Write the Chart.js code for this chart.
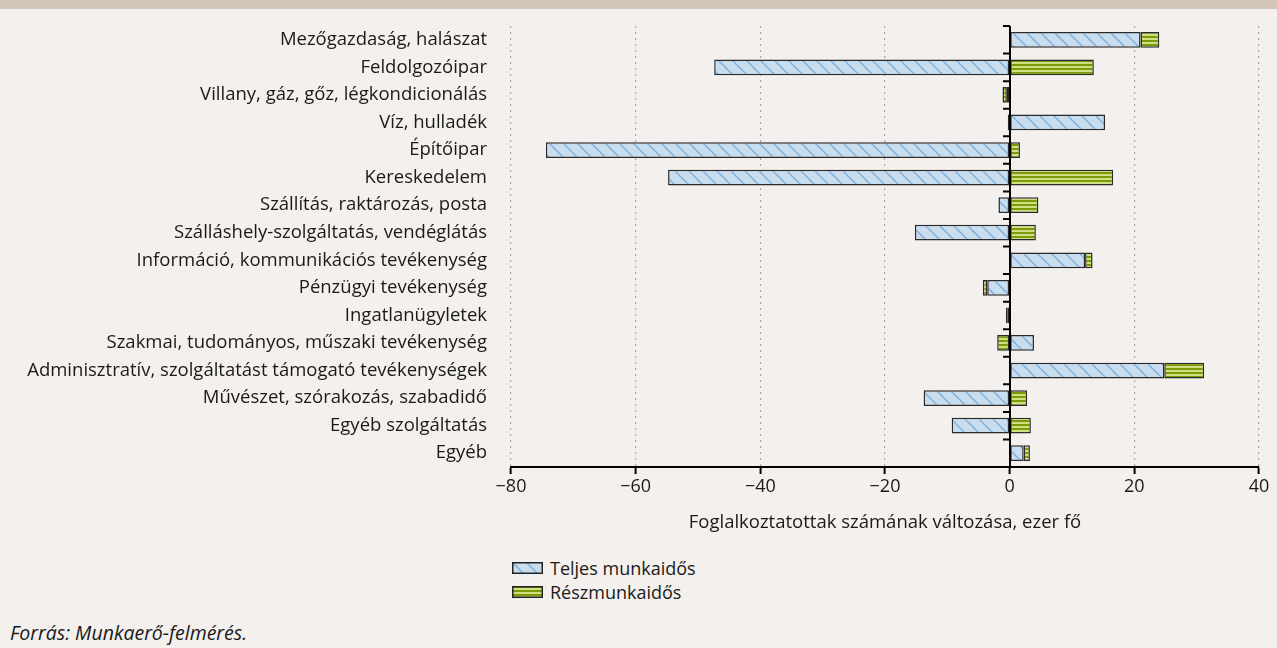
<!DOCTYPE html>
<html>
<head>
<meta charset="utf-8">
<script src="https://cdn.jsdelivr.net/npm/chart.js@4/dist/chart.umd.min.js"></script>
<style>
  html, body { margin: 0; padding: 0; }
  body { width: 1277px; height: 648px; background: #f3f0ed; position: relative; overflow: hidden; font-family: "Open Sans", sans-serif; color: #1a1a1a; }
  #band { position: absolute; left: 0; top: 0; width: 1277px; height: 9px; background: #d3c6b8; }
  #wrap { position: absolute; left: 0; top: 0; width: 1277px; height: 536px; }
  .leg { position: absolute; left: 512px; height: 22px; display: flex; align-items: center; font-size: 18px; }
  .leg canvas { width: 31px; height: 12px; margin-right: 7px; }
  #src { position: absolute; left: 10px; top: 621px; font-size: 19.5px; font-style: italic; color: #1a1a1a; line-height: 24px; }
</style>
</head>
<body>
<div id="band"></div>
<div id="wrap"><canvas id="c" width="1277" height="536"></canvas></div>
<div class="leg" style="top:557px"><canvas id="sw1" width="31" height="12"></canvas><span>Teljes munkaidős</span></div>
<div class="leg" style="top:581px"><canvas id="sw2" width="31" height="12"></canvas><span>Részmunkaidős</span></div>
<div id="src">Forrás: Munkaerő-felmérés.</div>
<script>
const categories = [
  "Mezőgazdaság, halászat",
  "Feldolgozóipar",
  "Villany, gáz, gőz, légkondicionálás",
  "Víz, hulladék",
  "Építőipar",
  "Kereskedelem",
  "Szállítás, raktározás, posta",
  "Szálláshely-szolgáltatás, vendéglátás",
  "Információ, kommunikációs tevékenység",
  "Pénzügyi tevékenység",
  "Ingatlanügyletek",
  "Szakmai, tudományos, műszaki tevékenység",
  "Adminisztratív, szolgáltatást támogató tevékenységek",
  "Művészet, szórakozás, szabadidő",
  "Egyéb szolgáltatás",
  "Egyéb"
];
const fullTime = [21, -47.4, -0.45, 15.3, -74.4, -54.8, -1.8, -15.2, 12.1, -3.6, -0.3, 3.9, 24.8, -13.8, -9.3, 2.25];
const partTime = [3.0, 13.5, -0.7, -0.3, 1.65, 16.6, 4.6, 4.2, 1.2, -0.7, -0.3, -2.0, 6.4, 2.8, 3.4, 1.0];
const seriesNames = ["Teljes munkaidős", "Részmunkaidős"];
const xTicks = [-80, -60, -40, -20, 0, 20, 40];
const xTitle = "Foglalkoztatottak számának változása, ezer fő";

function hatchPattern() {
  const c = document.createElement('canvas');
  c.width = 14; c.height = 14;
  const g = c.getContext('2d');
  g.fillStyle = '#c9ddef';
  g.fillRect(0, 0, 14, 14);
  g.strokeStyle = '#80b0dc';
  g.lineWidth = 1.5;
  g.beginPath();
  g.moveTo(-2, -2); g.lineTo(16, 16);
  g.moveTo(-16, -2); g.lineTo(2, 16);
  g.moveTo(12, -2); g.lineTo(30, 16);
  g.stroke();
  return g.createPattern(c, 'repeat');
}
function stripePattern() {
  const c = document.createElement('canvas');
  c.width = 4; c.height = 4;
  const g = c.getContext('2d');
  g.fillStyle = '#d0df84';
  g.fillRect(0, 0, 4, 4);
  g.fillStyle = '#7a9a06';
  g.fillRect(0, 0, 4, 2);
  return g.createPattern(c, 'repeat');
}
const ctx = document.getElementById('c').getContext('2d');
const pBlue = hatchPattern();
const pGreen = stripePattern();

function swatch(id, pat) {
  const g = document.getElementById(id).getContext('2d');
  g.fillStyle = pat;
  g.fillRect(0, 0, 31, 12);
  g.strokeStyle = '#222';
  g.lineWidth = 1.5;
  g.strokeRect(0.75, 0.75, 29.5, 10.5);
}
swatch('sw1', pBlue);
swatch('sw2', pGreen);

const zeroAxis = {
  id: 'zeroAxis',
  afterDatasetsDraw(chart) {
    const xs = chart.scales.x, ys = chart.scales.y, a = chart.chartArea;
    const x0 = Math.round(xs.getPixelForValue(0));
    const g = chart.ctx;
    g.save();
    g.strokeStyle = '#000';
    g.lineWidth = 2;
    g.beginPath();
    g.moveTo(x0, a.top);
    g.lineTo(x0, a.bottom);
    for (let i = 0; i <= categories.length; i++) {
      const y = ys.getPixelForValue(i - 0.5);
      g.moveTo(x0 - 7, y);
      g.lineTo(x0, y);
    }
    g.stroke();
    g.restore();
  }
};

new Chart(ctx, {
  type: 'bar',
  data: {
    labels: categories,
    datasets: [
      { label: seriesNames[0], data: fullTime, backgroundColor: pBlue, borderColor: '#2a2a2a', borderWidth: 1.5, borderSkipped: false },
      { label: seriesNames[1], data: partTime, backgroundColor: pGreen, borderColor: '#2a2a2a', borderWidth: 1.5, borderSkipped: false }
    ]
  },
  options: {
    indexAxis: 'y',
    responsive: false,
    animation: false,
    devicePixelRatio: 1,
    layout: { padding: { top: 26, right: 18, left: 0, bottom: 0 } },
    datasets: { bar: { barPercentage: 0.57, categoryPercentage: 1 } },
    plugins: { legend: { display: false }, tooltip: { enabled: false } },
    scales: {
      x: {
        type: 'linear', stacked: true, min: -80, max: 40,
        afterBuildTicks(s) { s.ticks = xTicks.map(v => ({ value: v })); },
        afterFit(s) { s.height = 69; s.paddingLeft = 0; s.paddingRight = 0; },
        grid: {
          color: c => (c.tick && c.tick.value === 0) ? 'rgba(0,0,0,0)' : '#a8a8a8',
          lineWidth: 1.2,
          tickColor: '#000',
          tickLength: 7,
          tickWidth: 2
        },
        border: { display: true, color: '#000', width: 2, dash: [2, 4] },
        ticks: {
          color: '#1a1a1a', padding: 2,
          font: { family: 'Open Sans', size: 18 },
          callback: v => (v < 0 ? '\u2212' + Math.abs(v) : String(v))
        },
        title: { display: true, text: xTitle, color: '#1a1a1a', font: { family: 'Open Sans', size: 18.5 }, padding: { top: 4, bottom: 2 } }
      },
      y: {
        stacked: true,
        afterFit(s) { s.width = 511; s.paddingTop = 0; s.paddingBottom = 0; },
        grid: { display: false, drawTicks: false },
        border: { display: false },
        ticks: { color: '#1a1a1a', padding: 24, font: { family: 'Open Sans', size: 18.5 } }
      }
    }
  },
  plugins: [zeroAxis]
});
</script>
</body>
</html>
